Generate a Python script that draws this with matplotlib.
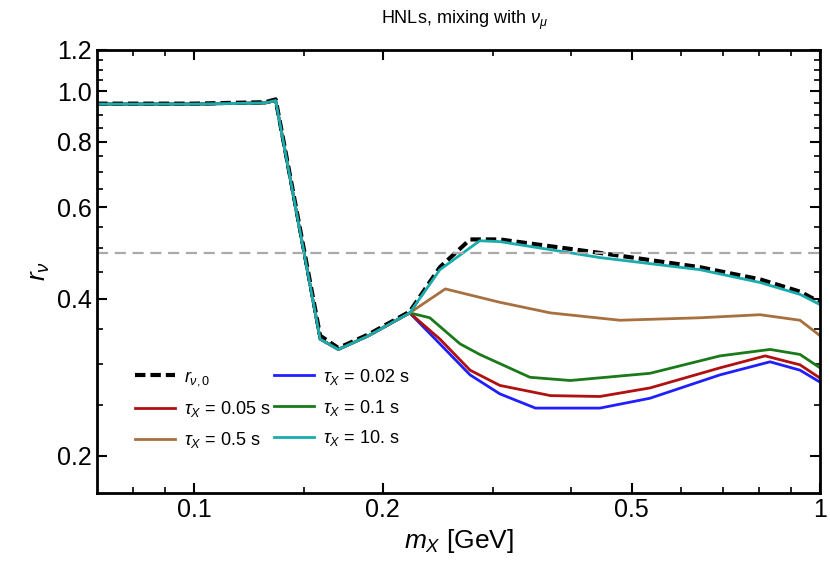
import matplotlib
matplotlib.use("Agg")
import matplotlib.pyplot as plt
from matplotlib.ticker import FixedLocator, NullFormatter

plt.rcParams["font.family"] = "Liberation Sans"
plt.rcParams["mathtext.fontset"] = "custom"
plt.rcParams["mathtext.it"] = "Liberation Sans:italic"
plt.rcParams["mathtext.rm"] = "Liberation Sans"

# shared low-mass part (all curves coincide)
x_common = [0.07, 0.10, 0.130, 0.135, 0.159, 0.170, 0.190, 0.221]
y_common = [0.945, 0.945, 0.950, 0.960, 0.335, 0.320, 0.340, 0.376]
y_common_black = [0.947, 0.947, 0.953, 0.965, 0.340, 0.322, 0.342, 0.378]

x_r0 = [0.247, 0.276, 0.308, 0.445, 0.643, 0.802, 0.929, 1.0]
y_r0 = [0.460, 0.520, 0.520, 0.490, 0.460, 0.436, 0.413, 0.394]

x_t10 = [0.247, 0.286, 0.308, 0.445, 0.643, 0.802, 0.929, 1.0]
y_t10 = [0.455, 0.517, 0.515, 0.480, 0.455, 0.430, 0.408, 0.390]

x_t05 = [0.252, 0.308, 0.371, 0.479, 0.643, 0.802, 0.929, 1.0]
y_t05 = [0.418, 0.394, 0.376, 0.364, 0.368, 0.373, 0.364, 0.340]

x_t01 = [0.238, 0.266, 0.286, 0.344, 0.399, 0.535, 0.692, 0.832, 0.929, 1.0]
y_t01 = [0.368, 0.328, 0.313, 0.283, 0.279, 0.288, 0.311, 0.320, 0.313, 0.295]

x_t005 = [0.247, 0.276, 0.308, 0.371, 0.445, 0.535, 0.692, 0.817, 0.929, 1.0]
y_t005 = [0.335, 0.292, 0.273, 0.261, 0.260, 0.270, 0.295, 0.311, 0.299, 0.282]

x_t002 = [0.247, 0.276, 0.308, 0.351, 0.445, 0.535, 0.692, 0.832, 0.929, 1.0]
y_t002 = [0.328, 0.286, 0.263, 0.247, 0.247, 0.258, 0.286, 0.303, 0.292, 0.277]

r_ref = 0.49

fig = plt.figure(figsize=(8.3, 5.88), dpi=100)
ax = fig.add_axes([0.117, 0.162, 0.871, 0.753])

series = [
    (x_t002, y_t002, "#1f1fff", r"$\tau_X$ = 0.02 s"),
    (x_t005, y_t005, "#b01010", r"$\tau_X$ = 0.05 s"),
    (x_t01, y_t01, "#1a7a1a", r"$\tau_X$ = 0.1 s"),
    (x_t05, y_t05, "#a87040", r"$\tau_X$ = 0.5 s"),
]
handles = {}
for xs, ys, c, lab in series:
    (h,) = ax.plot(x_common + xs, y_common + ys, color=c, lw=2, label=lab)
    handles[lab] = h
(hb,) = ax.plot(x_common + x_r0, y_common_black + y_r0, color="black", lw=3,
                ls=(0, (2.5, 1.2)), label=r"$r_{\nu,0}$")
(hc,) = ax.plot(x_common + x_t10, y_common + y_t10, color="#1aacac", lw=2,
                label=r"$\tau_X$ = 10. s")
ax.axhline(r_ref, color="#aaaaaa", lw=1.6, ls=(0, (5, 3)))

ax.set_xscale("log")
ax.set_yscale("log")
ax.set_xlim(0.07, 1.0)
ax.set_ylim(0.17, 1.2)
ax.xaxis.set_major_locator(FixedLocator([0.1, 0.2, 0.5, 1.0]))
ax.set_xticklabels(["0.1", "0.2", "0.5", "1"])
ax.xaxis.set_minor_locator(FixedLocator([0.08, 0.09, 0.15, 0.3, 0.4, 0.6, 0.7, 0.8, 0.9]))
ax.xaxis.set_minor_formatter(NullFormatter())
ax.yaxis.set_major_locator(FixedLocator([0.2, 0.4, 0.6, 0.8, 1.0, 1.2]))
ax.set_yticklabels(["0.2", "0.4", "0.6", "0.8", "1.0", "1.2"])
ax.yaxis.set_minor_locator(FixedLocator([0.25, 0.3, 0.35, 0.45, 0.5, 0.55, 0.65, 0.7, 0.75,
                                         0.85, 0.9, 0.95, 1.05, 1.1, 1.15]))
ax.yaxis.set_minor_formatter(NullFormatter())
ax.tick_params(which="both", direction="in", top=True, right=True, labelsize=18)
ax.tick_params(which="major", length=7, width=1.5)
ax.tick_params(which="minor", length=4, width=1.2)
for s in ax.spines.values():
    s.set_linewidth(2)

ax.set_xlabel(r"$m_X$ [GeV]", fontsize=19)
ax.set_ylabel(r"$r_\nu$", fontsize=19)
fig.text(0.56, 0.965, r"HNLs, mixing with $\nu_\mu$", ha="center", va="center", fontsize=13)

order = [hb, handles[r"$\tau_X$ = 0.05 s"], handles[r"$\tau_X$ = 0.5 s"],
         handles[r"$\tau_X$ = 0.02 s"], handles[r"$\tau_X$ = 0.1 s"], hc]
ax.legend(handles=order, ncol=2, frameon=False, loc="lower left",
          bbox_to_anchor=(0.03, 0.06), fontsize=13, handlelength=2.2,
          columnspacing=0.2, handletextpad=0.5, labelspacing=0.6)

fig.savefig("out.png", dpi=100)
